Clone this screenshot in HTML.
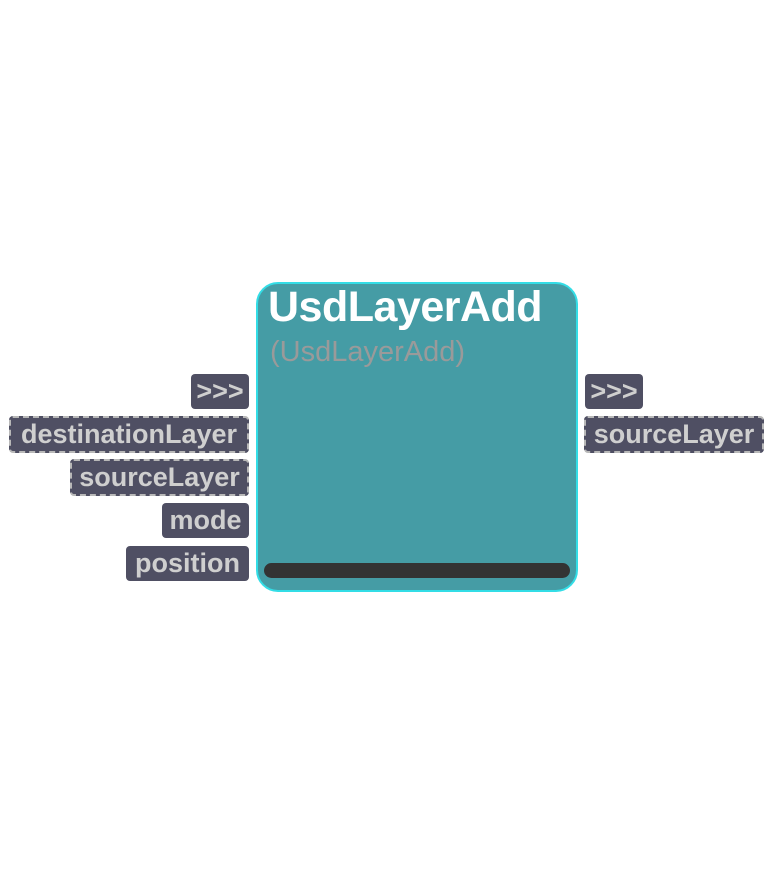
<!DOCTYPE html>
<html><head><style>
body{margin:0;width:775px;height:875px;background:#fff;position:relative;overflow:hidden;font-family:"Liberation Sans",sans-serif}
.node{position:absolute;left:256px;top:282px;width:318px;height:306px;background:#459ca5;border:2px solid #33dde6;border-radius:22px}
.t{position:absolute;left:268px;top:283px;font-size:43px;font-weight:bold;color:#fff;letter-spacing:-0.5px;white-space:nowrap}
.s{position:absolute;left:270px;top:336px;font-size:29px;color:#9a9a9a;white-space:nowrap}
.bar{position:absolute;left:264px;top:563px;width:306px;height:15px;background:#333;border-radius:8px}
.p{position:absolute;background:#4f4f63;color:#cfcfcf;font-weight:bold;font-size:27px;border-radius:4px;box-sizing:border-box;text-align:center;white-space:nowrap;line-height:35px;height:35px;overflow:hidden}
.d{border:2px dashed #b8b8b8;line-height:33px;height:37px}
</style></head><body>
<div class="node"></div>
<div class="t">UsdLayerAdd</div>
<div class="s">(UsdLayerAdd)</div>
<div class="bar"></div>
<div class="p" style="left:191px;top:374px;width:58px">&gt;&gt;&gt;</div>
<div class="p d" style="left:9px;top:416px;width:240px">destinationLayer</div>
<div class="p d" style="left:70px;top:459px;width:179px">sourceLayer</div>
<div class="p" style="left:162px;top:503px;width:87px">mode</div>
<div class="p" style="left:126px;top:546px;width:123px">position</div>
<div class="p" style="left:585px;top:374px;width:58px">&gt;&gt;&gt;</div>
<div class="p d" style="left:584px;top:416px;width:180px">sourceLayer</div>
</body></html>
